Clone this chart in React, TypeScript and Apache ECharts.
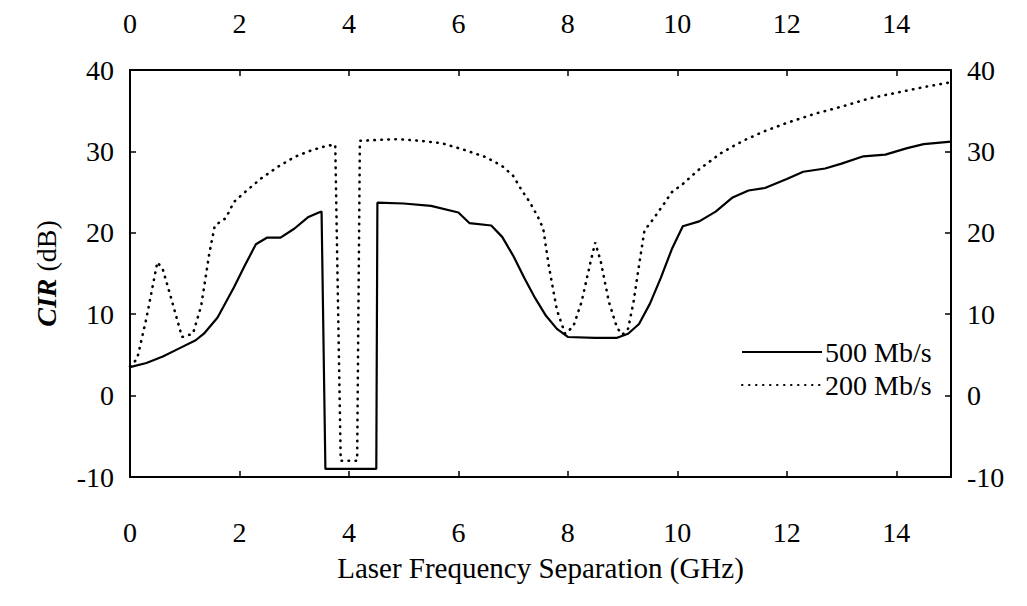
import React, { useEffect, useRef } from "react";
import * as echarts from "echarts";

const freq500 = [0, 0.3, 0.6, 0.9, 1.2, 1.35, 1.6, 1.9, 2.1, 2.3, 2.5, 2.75, 3.0, 3.25, 3.45, 3.5, 3.57, 4.0, 4.5, 4.52, 5.0, 5.5, 6.0, 6.2, 6.6, 6.8, 7.0, 7.2, 7.4, 7.6, 7.8, 8.0, 8.5, 8.9, 9.1, 9.3, 9.5, 9.7, 9.9, 10.1, 10.4, 10.7, 11.0, 11.3, 11.6, 12.0, 12.3, 12.7, 13.0, 13.4, 13.8, 14.2, 14.5, 15.0];
const cir500 = [3.5, 4.0, 4.8, 5.8, 6.8, 7.6, 9.6, 13.3, 16.0, 18.6, 19.4, 19.4, 20.5, 21.9, 22.5, 22.6, -9, -9, -9, 23.7, 23.6, 23.3, 22.5, 21.2, 20.9, 19.5, 17.2, 14.5, 12.0, 9.8, 8.2, 7.2, 7.1, 7.1, 7.6, 8.8, 11.3, 14.5, 18.0, 20.8, 21.4, 22.6, 24.3, 25.2, 25.5, 26.6, 27.5, 27.9, 28.5, 29.4, 29.6, 30.4, 30.9, 31.2];

const freq200 = [0, 0.13, 0.3, 0.5, 0.6, 0.75, 0.95, 1.15, 1.3, 1.45, 1.55, 1.75, 1.9, 2.1, 2.4, 2.7, 3.0, 3.3, 3.6, 3.75, 3.85, 4.15, 4.2, 4.5, 4.9, 5.3, 5.7, 6.1, 6.5, 6.8, 7.0, 7.15, 7.3, 7.45, 7.55, 7.65, 7.8, 7.95, 8.1, 8.25, 8.4, 8.5, 8.6, 8.75, 8.9, 9.0, 9.1, 9.2, 9.3, 9.4, 9.55, 9.75, 9.9, 10.1, 10.4, 10.8, 11.2, 11.6, 12.0, 12.5, 13.0, 13.5, 14.0, 14.5, 15.0];
const cir200 = [3.6, 4.5, 9.5, 16.4, 15.5, 12.0, 7.2, 7.6, 11.0, 17.5, 20.9, 21.8, 23.8, 25.0, 26.7, 28.1, 29.3, 30.1, 30.7, 30.8, -8, -8, 31.3, 31.4, 31.5, 31.3, 31.0, 30.2, 29.3, 28.2, 27.0, 25.3, 23.8, 22.0, 20.5, 16.0, 10.5, 7.6, 8.5, 11.5, 16.0, 18.8, 16.5, 11.5, 8.3, 7.5, 8.2, 11.5, 16.0, 20.3, 21.6, 23.5, 25.0, 26.0, 27.8, 29.8, 31.3, 32.5, 33.5, 34.6, 35.5, 36.5, 37.2, 37.9, 38.5];

const xTicks = [0, 2, 4, 6, 8, 10, 12, 14];
const yTicks = [-10, 0, 10, 20, 30, 40];

const FONT = "'Liberation Serif', 'Times New Roman', Times, serif";

export default function App() {
  const ref = useRef<HTMLDivElement>(null);
  useEffect(() => {
    if (!ref.current) return;
    const chart = echarts.init(ref.current, null, { renderer: "svg" });
    const axisLine = { show: true, onZero: false, lineStyle: { color: "#000", width: 2 } };
    const tick = { show: true, inside: true, length: 6, lineStyle: { color: "#000", width: 1.5 } };
    const lab = { color: "#000", fontFamily: FONT, fontSize: 28 };
    const xFmt = (v: number) => (xTicks.includes(v) ? String(v) : "");
    const yFmt = (v: number) => (yTicks.includes(v) ? String(v) : "");
    chart.setOption({
      animation: false,
      backgroundColor: "#fff",
      textStyle: { fontFamily: FONT },
      grid: { left: 122, right: 68, top: 62, bottom: 121, containLabel: false },
      legend: {
        orient: "vertical",
        left: 728,
        top: 325,
        itemWidth: 80,
        itemHeight: 14,
        itemGap: 5,
        itemStyle: { opacity: 0 },
        textStyle: { color: "#000", fontFamily: FONT, fontSize: 28, padding: [0, 0, 0, -2] },
        data: ["500 Mb/s", "200 Mb/s"],
      },
      xAxis: [
        {
          type: "value",
          min: 0,
          max: 15,
          interval: 2,
          position: "bottom",
          axisLine,
          axisTick: tick,
          splitLine: { show: false },
          axisLabel: { ...lab, margin: 41, formatter: xFmt },
          name: "Laser Frequency Separation (GHz)",
          nameLocation: "middle",
          nameGap: 76,
          nameTextStyle: { color: "#000", fontFamily: FONT, fontSize: 29 },
        },
        {
          type: "value",
          min: 0,
          max: 15,
          interval: 2,
          position: "top",
          axisLine,
          axisTick: tick,
          splitLine: { show: false },
          axisLabel: { ...lab, margin: 33, formatter: xFmt },
        },
      ],
      yAxis: [
        {
          type: "value",
          min: -10,
          max: 40,
          interval: 10,
          position: "left",
          axisLine,
          axisTick: tick,
          splitLine: { show: false },
          axisLabel: { ...lab, margin: 16, formatter: yFmt },
          name: "{b|CIR} (dB)",
          nameLocation: "middle",
          nameGap: 70,
          nameTextStyle: {
            color: "#000",
            fontFamily: FONT,
            fontSize: 28,
            rich: { b: { fontFamily: FONT, fontSize: 28, fontWeight: "bold", fontStyle: "italic", color: "#000" } },
          },
        },
        {
          type: "value",
          min: -10,
          max: 40,
          interval: 10,
          position: "right",
          axisLine,
          axisTick: tick,
          splitLine: { show: false },
          axisLabel: { ...lab, margin: 16, formatter: yFmt },
        },
      ],
      series: [
        {
          name: "500 Mb/s",
          type: "line",
          xAxisIndex: 0,
          yAxisIndex: 0,
          symbol: "none",
          smooth: false,
          lineStyle: { color: "#000", width: 2.2, type: "solid" },
          itemStyle: { color: "#000" },
          data: freq500.map((x, i) => [x, cir500[i]]),
        },
        {
          name: "200 Mb/s",
          type: "line",
          xAxisIndex: 0,
          yAxisIndex: 0,
          symbol: "none",
          smooth: false,
          lineStyle: { color: "#000", width: 2.6, type: [0.5, 6.5], cap: "round" },
          itemStyle: { color: "#000" },
          data: freq200.map((x, i) => [x, cir200[i]]),
        },
      ],
    });
    return () => chart.dispose();
  }, []);
  return <div ref={ref} style={{ width: 1011, height: 590 }} />;
}
